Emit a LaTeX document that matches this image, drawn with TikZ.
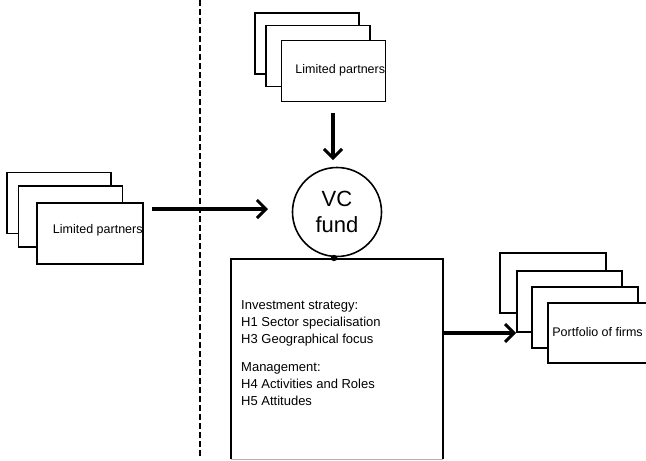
\documentclass[tikz,border=0pt]{standalone}
\usepackage{fontspec}
\setmainfont{Liberation Sans}
\usetikzlibrary{arrows.meta}
\begin{document}
\begin{tikzpicture}[x=1pt,y=-1pt,
  card/.style={draw, fill=white, line width=1.6pt, inner sep=0pt, minimum width=104pt, minimum height=61pt},
  lbl/.style={inner sep=0pt, font=\fontsize{12.5}{14}\selectfont},
  flow/.style={line width=3.5pt, -{Straight Barb[length=9pt,width=18pt,line width=3pt]}},
  box/.style={inner sep=0pt}]
\useasboundingbox (0,0) rectangle (646,461);
% dashed divider
\coordinate (dtop) at (200,0);
\coordinate (dbot) at (200,456);
\draw[line width=1.8pt, dash pattern=on 6pt off 3pt] (dtop) -- (dbot);
% top stack
\node[card] (t1) at (307,43.5) {};
\node[card] (t2) at (318,56) {};
\node[card] (t3) at (333.5,71) {};
\node[lbl, anchor=east] (t3l) at ([xshift=-1pt,yshift=1pt]t3.east) {Limited partners};
% left stack
\node[card] (l1) at (59,203) {};
\node[card] (l2) at (70.5,216.5) {};
\node[card, minimum width=106pt] (l3) at (90,233.5) {};
\node[lbl, anchor=east] (l3l) at ([xshift=-1pt,yshift=3pt]l3.east) {Limited partners};
% portfolio stack
\node[card, minimum width=106pt, minimum height=60pt] (p1) at (553,283) {};
\node[card, minimum width=105pt] (p2) at (569.5,301.5) {};
\node[card, minimum width=106pt] (p3) at (585,317.5) {};
\node[card, minimum width=106pt, minimum height=60pt] (p4) at (601,333) {};
\node[lbl, anchor=west] (p4l) at ([xshift=5pt,yshift=1pt]p4.west) {Portfolio of firms};
% VC fund circle
\node[draw, circle, line width=1.6pt, minimum size=89pt, inner sep=0pt, align=center,
      font=\fontsize{22}{26}\selectfont] (vc) at (337,212) {VC\\fund};
% big box
\coordinate (bnw) at (231,259);
\coordinate (bne) at (443,259);
\coordinate (bsw) at (231,459);
\coordinate (bse) at (443,459);
\draw[line width=1.6pt] (bsw) -- (bnw) -- (bne) -- (bse);
\draw[line width=1pt, gray!60] (bsw) -- (bse);
\fill (334,258) circle (3.2pt);
\node[box, anchor=north west, align=left, font=\fontsize{13}{17}\selectfont] (txt) at (241,300)
 {Investment strategy:\\H1 Sector specialisation\\H3 Geographical focus\\[11pt]Management:\\H4 Activities and Roles\\H5 Attitudes};
\coordinate (bmid) at (443,333);
% arrows
\coordinate (la) at (152,209);
\coordinate (lb) at (268,209);
\draw[flow] (la) -- (lb);
\coordinate (ta) at (333,113);
\coordinate (tb) at (333,160);
\draw[flow] (ta) -- (tb);
\draw[flow] (bmid) -- (p2.west |- bmid);
\end{tikzpicture}
\end{document}
